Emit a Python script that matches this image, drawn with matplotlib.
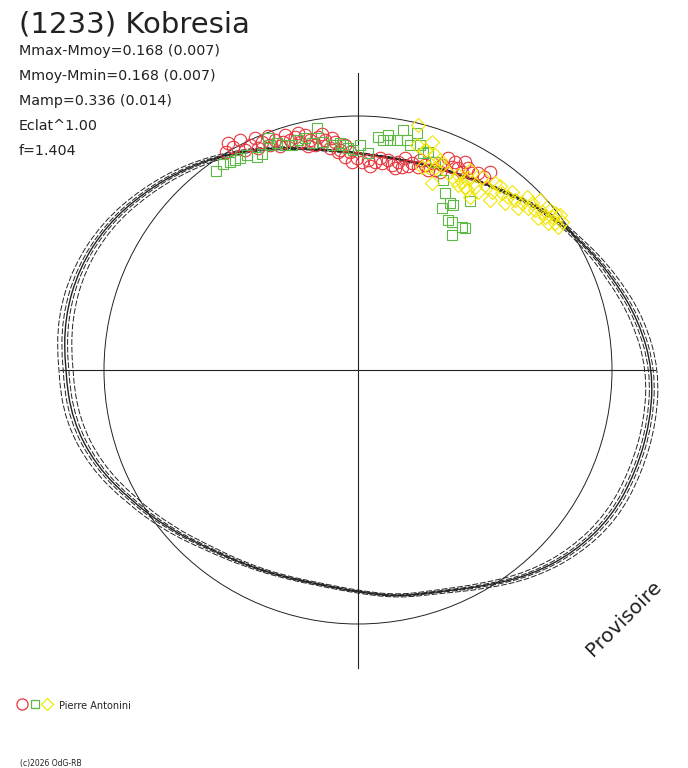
import matplotlib.pyplot as plt
import numpy as np
from matplotlib.patches import Circle, PathPatch
from matplotlib.path import Path

W, H = 688, 768
CX, CY = 358, 370   # pixel position of the pole
SCALE = 254         # pixels for radius 1 (reference circle)

# fitted polar lightcurve, radius (reference circle = 1) every 10 deg of phase
phase_deg = np.arange(0, 360, 10)
r_fit = [1.161, 1.122, 1.067, 1.016, 0.969, 0.913, 0.874, 0.854, 0.846, 0.854,
         0.882, 0.933, 0.988, 1.043, 1.094, 1.142, 1.169, 1.173, 1.154, 1.142,
         1.098, 1.031, 0.972, 0.917, 0.886, 0.866, 0.858, 0.874, 0.906, 0.929,
         0.984, 1.055, 1.114, 1.154, 1.165, 1.169]
# half width of the band of dashed solutions
r_spread = [0.024, 0.024, 0.020, 0.012, 0.008, 0.006, 0.004, 0.004, 0.004, 0.004,
            0.004, 0.006, 0.008, 0.014, 0.018, 0.020, 0.024, 0.028, 0.028, 0.028,
            0.024, 0.020, 0.016, 0.012, 0.008, 0.006, 0.006, 0.006, 0.006, 0.008,
            0.012, 0.016, 0.020, 0.024, 0.024, 0.024]

# observations (x, y in units of the reference circle)
red_x = [-0.492, -0.465, -0.425, -0.406, -0.378, -0.354, -0.327, -0.307, -0.287, -0.268,
         -0.248, -0.228, -0.209, -0.189, -0.169, -0.157, -0.130, -0.110, -0.091, -0.071,
         -0.051, -0.079, -0.051, -0.024, 0.016, 0.039, 0.067, 0.094, 0.118, 0.134,
         0.157, 0.173, 0.185, 0.213, 0.236, 0.264, 0.291, 0.303, 0.331, 0.354,
         0.370, 0.394, 0.421, 0.433, 0.449, 0.472, 0.520, 0.496, -0.520,
         -0.512, -0.445, -0.394, -0.346, -0.295, -0.236, -0.197, -0.142, -0.102, -0.031,
         -0.004, 0.047, 0.087, 0.146, 0.197, 0.244, 0.276, 0.323, 0.382, 0.409]
red_y = [0.878, 0.906, 0.886, 0.913, 0.898, 0.921, 0.906, 0.882, 0.925, 0.906,
         0.917, 0.898, 0.925, 0.906, 0.886, 0.917, 0.906, 0.874, 0.898, 0.866,
         0.886, 0.858, 0.839, 0.819, 0.819, 0.827, 0.819, 0.815, 0.827, 0.807,
         0.819, 0.799, 0.835, 0.815, 0.799, 0.807, 0.815, 0.787, 0.807, 0.835,
         0.799, 0.795, 0.819, 0.795, 0.776, 0.776, 0.780, 0.760, 0.858,
         0.894, 0.866, 0.874, 0.886, 0.898, 0.933, 0.882, 0.929, 0.913, 0.858,
         0.835, 0.803, 0.835, 0.795, 0.803, 0.827, 0.787, 0.780, 0.819, 0.780]

green_x = [-0.559, -0.531, -0.504, -0.484, -0.465, -0.437, -0.398, -0.378, -0.354, -0.346,
           -0.319, -0.287, -0.260, -0.236, -0.209, -0.181, -0.161, -0.138, -0.102, -0.071,
           -0.059, -0.039, -0.020, 0.008, 0.039, 0.079, 0.098, 0.118, 0.126, 0.154,
           0.177, 0.193, 0.205, 0.232, 0.244, 0.256, 0.276, 0.303, 0.335, 0.343,
           0.362, 0.374, 0.331, 0.441, 0.354, 0.370, 0.409, 0.421, 0.370]
green_y = [0.783, 0.811, 0.819, 0.827, 0.835, 0.846, 0.839, 0.850, 0.913, 0.886,
           0.894, 0.886, 0.886, 0.906, 0.913, 0.894, 0.953, 0.898, 0.886, 0.894,
           0.886, 0.874, 0.866, 0.886, 0.854, 0.917, 0.906, 0.925, 0.906, 0.906,
           0.945, 0.906, 0.886, 0.933, 0.886, 0.854, 0.858, 0.819, 0.748, 0.697,
           0.657, 0.650, 0.638, 0.665, 0.591, 0.583, 0.563, 0.559, 0.531]

yellow_x = [0.236, 0.232, 0.291, 0.303, 0.252, 0.276, 0.303, 0.331, 0.291, 0.354,
            0.382, 0.394, 0.429, 0.433, 0.441, 0.394, 0.421, 0.461, 0.488, 0.508,
            0.539, 0.567, 0.591, 0.579, 0.618, 0.646, 0.665, 0.669, 0.697, 0.724,
            0.736, 0.764, 0.776, 0.776, 0.803, 0.787, 0.748, 0.441, 0.520,
            0.409, 0.472, 0.528, 0.559, 0.606, 0.630, 0.685, 0.709, 0.756, 0.795,
            0.717, 0.264, 0.323]
yellow_y = [0.965, 0.886, 0.898, 0.846, 0.799, 0.799, 0.795, 0.807, 0.736, 0.776,
            0.748, 0.728, 0.709, 0.756, 0.787, 0.768, 0.720, 0.720, 0.760, 0.720,
            0.736, 0.697, 0.681, 0.657, 0.669, 0.657, 0.681, 0.638, 0.630, 0.622,
            0.602, 0.602, 0.618, 0.579, 0.583, 0.563, 0.579, 0.681, 0.669,
            0.740, 0.701, 0.701, 0.724, 0.701, 0.638, 0.657, 0.598, 0.630, 0.610,
            0.669, 0.866, 0.827]

title = "(1233) Kobresia"
info_lines = ["Mmax-Mmoy=0.168 (0.007)", "Mmoy-Mmin=0.168 (0.007)",
              "Mamp=0.336 (0.014)", "Eclat^1.00", "f=1.404"]
observer = "Pierre Antonini"

RED, GREEN, YELLOW, INK = '#e8343c', '#5cb946', '#f2e600', '#222222'


def closed_curve(radii, **kw):
    # smooth closed outline through the polar readings (quadratic bezier path)
    th = np.deg2rad(phase_deg)
    rad = np.asarray(radii)
    pts = np.column_stack([rad * np.cos(th), rad * np.sin(th)])
    mids = (pts + np.roll(pts, -1, axis=0)) / 2
    verts = [mids[-1]]
    codes = [Path.MOVETO]
    for p, m in zip(pts, mids):
        verts += [p, m]
        codes += [Path.CURVE3, Path.CURVE3]
    return PathPatch(Path(verts, codes), fill=False, **kw)


fig = plt.figure(figsize=(W / 100, H / 100), dpi=100)
ax = fig.add_axes([0, 0, 1, 1])
ax.set_xlim(-CX / SCALE, (W - CX) / SCALE)
ax.set_ylim(-(H - CY) / SCALE, CY / SCALE)
ax.axis('off')

# axes cross and reference circle
ax.plot([-1.173, 1.17], [0, 0], color=INK, lw=0.8)
ax.plot([0, 0], [-1.173, 1.17], color=INK, lw=0.8)
ax.add_patch(Circle((0, 0), 1.0, fill=False, ec=INK, lw=0.7))

# observations
ax.plot(red_x, red_y, 'o', mfc='none', mec=RED, ms=9, mew=0.8)
ax.plot(green_x, green_y, 's', mfc='none', mec=GREEN, ms=7, mew=0.8)
ax.plot(yellow_x, yellow_y, 'D', mfc='none', mec=YELLOW, ms=7.5, mew=0.8)

# fitted curve and its dashed variants
for f in [-1.0, -0.4, 0.4, 1.0]:
    rr = np.asarray(r_fit) + f * np.asarray(r_spread)
    ax.add_patch(closed_curve(rr, ec=INK, lw=0.7, ls=(0, (6, 2))))
ax.add_patch(closed_curve(r_fit, ec=INK, lw=1.0))

# texts
fig.text(19 / W, 1 - 33 / H, title, fontsize=21, color=INK, va='baseline')
for i, line in enumerate(info_lines):
    fig.text(19 / W, 1 - (55 + 25 * i) / H, line, fontsize=10.3, color=INK, va='baseline')

fig.text(624 / W, 1 - 618 / H, "Provisoire", fontsize=14.5, color=INK, rotation=45,
         ha='center', va='center', rotation_mode='anchor')

# observer legend
ax.plot([22 / W], [1 - 704 / H], 'o', mfc='none', mec=RED, ms=8, mew=0.9,
        transform=fig.transFigure, clip_on=False)
ax.plot([35 / W], [1 - 704 / H], 's', mfc='none', mec=GREEN, ms=5.5, mew=0.9,
        transform=fig.transFigure, clip_on=False)
ax.plot([47 / W], [1 - 704 / H], 'D', mfc='none', mec=YELLOW, ms=6.5, mew=0.9,
        transform=fig.transFigure, clip_on=False)
fig.text(59 / W, 1 - 709 / H, observer, fontsize=7, color=INK, va='baseline')
fig.text(20 / W, 1 - 766 / H, "(c)2026 OdG-RB", fontsize=5.5, color=INK, va='baseline')

fig.savefig('out.png', dpi=100, facecolor='white')
